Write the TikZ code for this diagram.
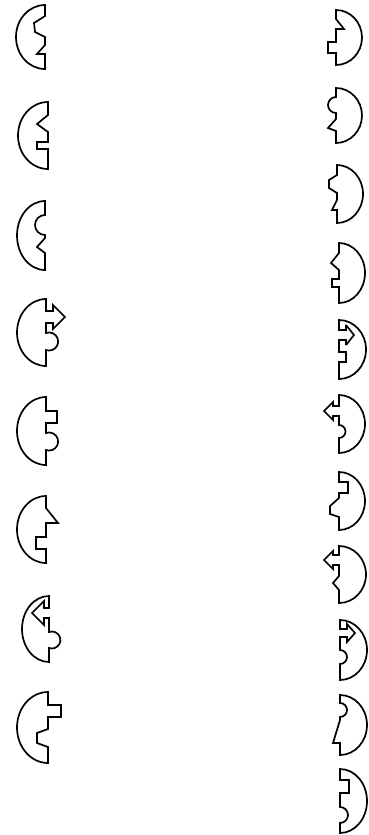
\documentclass[tikz,border=0pt]{standalone}
\begin{document}
\begin{tikzpicture}[x=1pt,y=1pt]
\tikzset{piece/.style={draw=black, line width=1.7pt, line join=miter, miter limit=3}}
\useasboundingbox (0,0) rectangle (368,-835);
% ---------- left column ----------
% L1
\draw[piece] (45,-5) -- (45,-16) -- (34,-23) -- (35,-32) -- (45,-37) -- (45,-45) -- (37,-54) -- (45,-54) -- (45,-69)
  arc[start angle=-90,end angle=-270,x radius=29,y radius=32] -- cycle;
% L2
\draw[piece] (48,-102) -- (48,-115) -- (37,-124) -- (48,-132) -- (48,-142) -- (37,-142) -- (37,-149) -- (48,-149) -- (48,-169)
  arc[start angle=-90,end angle=-270,x radius=30,y radius=33.5] -- cycle;
% L3
\draw[piece] (45,-201) -- (45,-215) arc[start angle=90,end angle=270,radius=10] -- (45,-238) -- (37,-247) -- (45,-253) -- (45,-270)
  arc[start angle=-90,end angle=-270,x radius=28,y radius=34.5] -- cycle;
% L4
\draw[piece] (46,-299) -- (46,-311) -- (53,-311) -- (53,-305) -- (65,-317) -- (53,-329) -- (53,-323) -- (46,-323) -- (46,-333)
  arc[start angle=110,end angle=-110,radius=9.05] -- (46,-366)
  arc[start angle=-90,end angle=-270,x radius=29,y radius=33.5] -- cycle;
% L5
\draw[piece] (46,-397) -- (46,-411) -- (57,-411) -- (57,-423) -- (46,-423) -- (46,-433)
  arc[start angle=110,end angle=-110,radius=9.05] -- (46,-465)
  arc[start angle=-90,end angle=-270,x radius=29,y radius=34] -- cycle;
% L6
\draw[piece] (46,-496) -- (46,-508) -- (58,-523) -- (46,-523) -- (46,-537) -- (36,-537) -- (36,-549) -- (46,-549) -- (46,-563)
  arc[start angle=-90,end angle=-270,x radius=29,y radius=33.5] -- cycle;
% L7
\draw[piece] (49,-596) -- (49,-608) -- (44,-608) -- (44,-601) -- (32,-613) -- (44,-625) -- (44,-618) -- (49,-618) -- (49,-632)
  arc[start angle=110,end angle=-110,radius=8.5] -- (49,-662)
  arc[start angle=-90,end angle=-270,x radius=27,y radius=33] -- cycle;
% L8
\draw[piece] (48,-692) -- (48,-705) -- (61,-705) -- (61,-717) -- (48,-717) -- (48,-729) -- (37,-733) -- (37,-743) -- (48,-747) -- (48,-763)
  arc[start angle=-90,end angle=-270,x radius=31,y radius=35.5] -- cycle;
% ---------- right column ----------
% R1
\draw[piece] (336,-10) -- (336,-19) -- (344,-29) -- (336,-29) -- (336,-42) -- (328,-42) -- (328,-53) -- (336,-53) -- (336,-65)
  arc[start angle=-90,end angle=90,x radius=26,y radius=27.5] -- cycle;
% R2
\draw[piece] (336,-88) -- (336,-97) arc[start angle=90,end angle=270,x radius=8,y radius=8] -- (336,-119) -- (328,-128) -- (336,-131) -- (336,-143)
  arc[start angle=-90,end angle=90,x radius=26,y radius=27.5] -- cycle;
% R3
\draw[piece] (337,-165) -- (337,-175) -- (329,-180) -- (329,-188) -- (337,-193) -- (337,-200) -- (332,-210) -- (337,-210) -- (337,-223)
  arc[start angle=-90,end angle=90,x radius=26,y radius=29] -- cycle;
% R4
\draw[piece] (339,-243) -- (339,-253) -- (331,-263) -- (339,-270) -- (339,-279) -- (332,-279) -- (332,-287) -- (339,-287) -- (339,-303)
  arc[start angle=-90,end angle=90,x radius=26,y radius=30] -- cycle;
% R5
\draw[piece] (339,-320) -- (339,-330) -- (346,-330) -- (346,-325) -- (354,-335) -- (346,-345) -- (346,-340) -- (339,-340) -- (339,-352) -- (346,-352) -- (346,-362) -- (339,-362) -- (339,-379)
  arc[start angle=-90,end angle=90,x radius=27,y radius=29.5] -- cycle;
% R6
\draw[piece] (339,-395) -- (339,-406) -- (333,-406) -- (333,-402) -- (324,-411) -- (333,-420) -- (333,-416) -- (339,-416) -- (339,-425)
  arc[start angle=90,end angle=-90,radius=6.5] -- (339,-453)
  arc[start angle=-90,end angle=90,x radius=26,y radius=29] -- cycle;
% R7
\draw[piece] (339,-472) -- (339,-482) -- (348,-482) -- (348,-493) -- (339,-493) -- (339,-498) -- (330,-506) -- (330,-514) -- (339,-517) -- (339,-530)
  arc[start angle=-90,end angle=90,x radius=26,y radius=29] -- cycle;
% R8
\draw[piece] (339,-546) -- (339,-555) -- (333,-555) -- (333,-551) -- (324,-560) -- (333,-569) -- (333,-565) -- (339,-565) -- (339,-576) -- (333,-583) -- (339,-590) -- (339,-603)
  arc[start angle=-90,end angle=90,x radius=27,y radius=28.5] -- cycle;
% R9
\draw[piece] (340,-620) -- (340,-629) -- (347,-629) -- (347,-624) -- (355,-633) -- (347,-642) -- (347,-637) -- (340,-637) -- (340,-650)
  arc[start angle=90,end angle=-90,radius=7] -- (340,-680)
  arc[start angle=-90,end angle=90,x radius=27,y radius=30] -- cycle;
% R10
\draw[piece] (340,-695) -- (340,-703) arc[start angle=90,end angle=-90,radius=7] -- (340,-720) -- (333,-743) -- (340,-743) -- (340,-755)
  arc[start angle=-90,end angle=90,x radius=27,y radius=30] -- cycle;
% R11
\draw[piece] (340,-769) -- (340,-780) -- (349,-780) -- (349,-793) -- (340,-793) -- (340,-807)
  arc[start angle=90,end angle=-90,radius=8] -- (340,-833)
  arc[start angle=-90,end angle=90,x radius=27,y radius=32] -- cycle;
\end{tikzpicture}
\end{document}
